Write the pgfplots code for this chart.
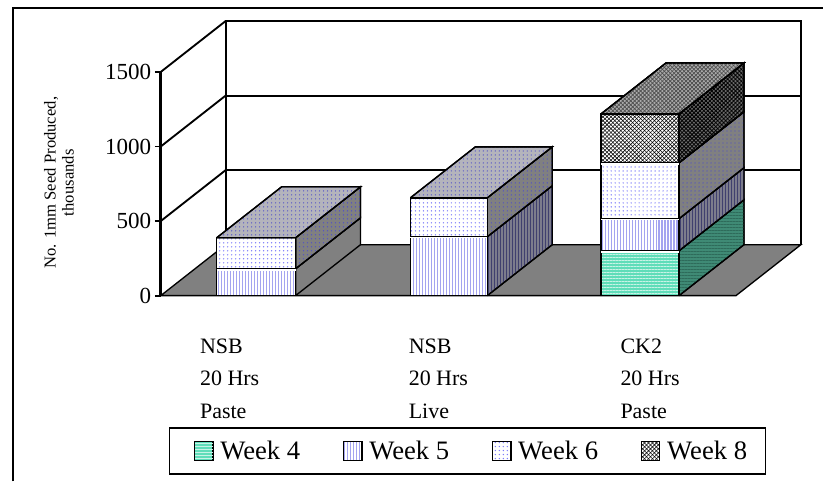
\documentclass[border=0pt]{standalone}
\usepackage{fontspec}
\setmainfont{Liberation Serif}
\usepackage{pgfplots}
\pgfplotsset{compat=1.18}
\usetikzlibrary{patterns.meta}

% one pixel of the reference is 0.75pt
\definecolor{floorgray}{HTML}{808080}
\definecolor{w4}{HTML}{5FDDB9}
\definecolor{w4s}{HTML}{3F8A75}
\definecolor{w4l}{HTML}{2E6B5A}
\definecolor{w5}{HTML}{A4A4F0}
\definecolor{w5s}{HTML}{7C7C8C}
\definecolor{w5l}{HTML}{40406E}
\definecolor{w6}{HTML}{7C7CFA}
\definecolor{w6s}{HTML}{808080}
\definecolor{w6l}{HTML}{5050C8}
\definecolor{w6t}{HTML}{B4B4BC}
\definecolor{w8s}{HTML}{6A6A6A}
\definecolor{w8t}{HTML}{ABABAB}
\pgfplotsset{
  wkfourf/.style={preaction={fill=w4},pattern={Lines[angle=0,distance=2.25pt,line width=0.7pt]},pattern color=white!65!w4},
  wkfours/.style={preaction={fill=w4s},pattern={Lines[angle=0,distance=2.25pt,line width=0.7pt]},pattern color=w4l},
  wkfivef/.style={preaction={fill=white},pattern={Lines[angle=90,distance=2.25pt,line width=0.9pt]},pattern color=w5},
  wkfives/.style={preaction={fill=w5s},pattern={Lines[angle=90,distance=2.25pt,line width=0.5pt]},pattern color=w5l},
  wksixf/.style={preaction={fill=white},pattern={Dots[distance=3pt,radius=0.55pt]},pattern color=w6},
  wksixs/.style={preaction={fill=w6s},pattern={Dots[distance=3pt,radius=0.5pt]},pattern color=w6l},
  wksixt/.style={preaction={fill=w6t},pattern={Dots[distance=3pt,radius=0.5pt]},pattern color=w6l},
  wkeightf/.style={preaction={fill=white},pattern={Lines[angle=45,distance=2.1pt,line width=0.42pt]},pattern color=black,
    postaction={pattern={Lines[angle=135,distance=2.1pt,line width=0.42pt]},pattern color=black}},
  wkeights/.style={preaction={fill=w8s},pattern={Lines[angle=45,distance=2.1pt,line width=0.6pt]},pattern color=black,
    postaction={pattern={Lines[angle=135,distance=2.1pt,line width=0.6pt]},pattern color=black}},
  wkeightt/.style={preaction={fill=w8t},pattern={Lines[angle=45,distance=2.1pt,line width=0.5pt]},pattern color=black!70,
    postaction={pattern={Lines[angle=135,distance=2.1pt,line width=0.5pt]},pattern color=black!70}},
}

% x0 x1 y0 y1 front side; the depth is 65 px across and 341.5 value units up
\newcommand{\seg}[6]{%
  \pgfmathsetmacro\xb{#2+65}\pgfmathsetmacro\ya{#3+341.5}\pgfmathsetmacro\yb{#4+341.5}%
  \addplot[forget plot,#6,draw=black,line width=1pt] coordinates {(#2,#3)(\xb,\ya)(\xb,\yb)(#2,#4)(#2,#3)};
  \addplot[forget plot,#5,draw=black,line width=1.1pt] coordinates {(#1,#3)(#2,#3)(#2,#4)(#1,#4)(#1,#3)};
}
% x0 x1 y top
\newcommand{\topface}[4]{%
  \pgfmathsetmacro\xa{#1+65}\pgfmathsetmacro\xb{#2+65}\pgfmathsetmacro\yb{#3+341.5}%
  \addplot[forget plot,#4,draw=black,line width=1pt] coordinates {(#1,#3)(#2,#3)(\xb,\yb)(\xa,\yb)(#1,#3)};
}

\begin{document}
\begin{tikzpicture}
\begin{axis}[
    x=0.75pt, y=0.112pt,
    xmin=161, xmax=802,
    ymin=0, ymax=1841.5,
    clip=false,
    axis x line=bottom, axis y line=left,
    axis line style={draw=none},
    ytick={0,500,1000,1500},
    xtick={230,439,651},
    xticklabels={NSB\\20 Hrs\\Paste, NSB\\20 Hrs\\Live, CK2\\20 Hrs\\Paste},
    x tick style={draw=none},
    y tick style={black,line width=1.4pt},
    tick align=outside,
    major tick length=4.5pt,
    scaled y ticks=false,
    /pgf/number format/1000 sep={},
    /pgf/number format/assume math mode=true,
    yticklabel style={font=\fontsize{17.3}{20}\selectfont,inner sep=0pt,xshift=-2.5pt},
    xticklabel style={font=\fontsize{16.5}{24.6}\selectfont,align=left,yshift=-24.3pt},
    ylabel={No. 1mm Seed Produced,\\thousands},
    every axis y label/.style={at={(axis cs:59,757)},rotate=90,anchor=center,align=center,font=\fontsize{12.5}{13.5}\selectfont},
    legend columns=4,
    legend cell align=left,
    legend image code/.code={\node[anchor=center,inner sep=0pt,minimum width=24.25pt,minimum height=1pt] at (5.375pt,0pt) {};\draw[#1,draw=black,line width=0.7pt] (0pt,-7.2pt) rectangle (14pt,7.2pt);},
    legend style={at={(axis cs:169,-884)},anchor=north west,draw=black,line width=0.9pt,
      font=\fontsize{20}{23}\selectfont,inner xsep=12pt,inner ysep=7.6pt,
      /tikz/every even column/.append style={column sep=23.6pt}},
]
% page and frame
\path (axis cs:0,-1245.6) rectangle (axis cs:824,1982.3);
\draw[black,line width=1.7pt] (axis cs:13,-1245.6) -- (axis cs:13,1928.7) -- (axis cs:824,1928.7);

% floor
\addplot[forget plot,fill=floorgray,draw=black,line width=1pt] coordinates {(161,0)(737,0)(802,341.5)(226,341.5)(161,0)};
% back wall and side wall
\addplot[forget plot,black,line width=1.5pt] coordinates {(226,341.5)(226,1841.5)(802,1841.5)(802,341.5)};
\addplot[forget plot,black,line width=1.5pt] coordinates {(226,841.5)(802,841.5)};
\addplot[forget plot,black,line width=1.5pt] coordinates {(226,1341.5)(802,1341.5)};
\addplot[forget plot,black,line width=1.4pt] coordinates {(161,500)(226,841.5)};
\addplot[forget plot,black,line width=1.4pt] coordinates {(161,1000)(226,1341.5)};
\addplot[forget plot,black,line width=1.4pt] coordinates {(161,1500)(226,1841.5)};
\addplot[forget plot,black,line width=2pt] coordinates {(161,0)(161,1500)};

% NSB paste
\seg{217}{296}{0}{180}{wkfivef}{fill=floorgray}
\seg{217}{296}{180}{388}{wksixf}{wksixs}
\topface{217}{296}{388}{wksixt}
\addplot[forget plot,white,line width=1pt] coordinates {(217,171)(296,171)};

% NSB live
\seg{411}{488}{0}{395}{wkfivef}{wkfives}
\seg{411}{488}{395}{656}{wksixf}{wksixs}
\topface{411}{488}{656}{wksixt}
\addplot[forget plot,white,line width=0.8pt] coordinates {(411,387)(488,387)};

% CK2 paste
\seg{602}{680}{0}{301}{wkfourf}{wkfours}
\seg{602}{680}{301}{516}{wkfivef}{wkfives}
\seg{602}{680}{516}{891}{wksixf}{wksixs}
\seg{602}{680}{891}{1219}{wkeightf}{wkeights}
\topface{602}{680}{1219}{wkeightt}
\addplot[forget plot,white,line width=0.9pt] coordinates {(602,293)(680,293)};
\addplot[forget plot,white,line width=0.9pt] coordinates {(602,508)(680,508)};
\addplot[forget plot,white,line width=0.9pt] coordinates {(602,883)(680,883)};

\addlegendimage{wkfourf}\addlegendentry{Week 4}
\addlegendimage{wkfivef}\addlegendentry{Week 5}
\addlegendimage{wksixf}\addlegendentry{Week 6}
\addlegendimage{wkeightf}\addlegendentry{Week 8}
\end{axis}
\end{tikzpicture}
\end{document}
